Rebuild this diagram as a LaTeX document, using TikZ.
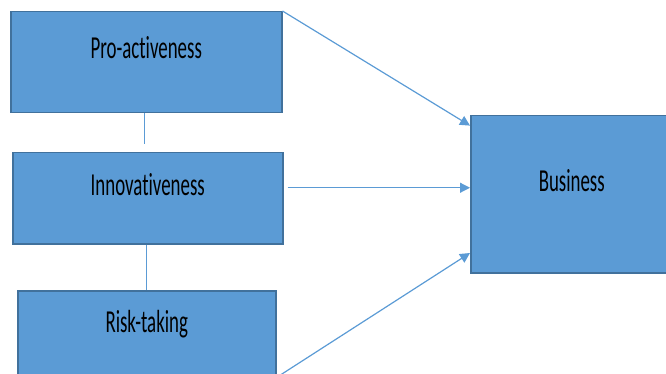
\documentclass[tikz,border=0pt]{standalone}
\usepackage{fontspec}
\setmainfont{Carlito}[FakeStretch=0.59, Ligatures=CommonOff]
\usetikzlibrary{arrows.meta, positioning}

\definecolor{boxfill}{HTML}{5B9BD5}
\definecolor{boxline}{HTML}{41719C}

\begin{document}
\begin{tikzpicture}[x=1pt, y=-1pt,
   factor/.style = {draw=boxline, fill=boxfill, line width=1.5pt, anchor=north west,
                    inner sep=0pt, font=\fontsize{32}{36}\selectfont},
   link/.style = {draw=boxfill, line width=1.2pt},
   -{Triangle[length=10pt, width=10pt]}]
   \useasboundingbox (0,0) rectangle (666,374);

   \node[factor, minimum width=271pt, text height=47pt, text depth=54pt] (pro)  at (10,11)   {Pro-activeness};
   \node[factor, minimum width=270pt, text height=43pt, text depth=48pt] (inn)  at (12,152)  {Innovativeness};
   \node[factor, minimum width=258pt, text height=42pt, text depth=46pt] (risk) at (17,290)  {Risk-taking};
   \node[factor, minimum width=202pt, text height=76pt, text depth=81pt] (bus)  at (470,115) {Business};

   \draw[link, -] ([xshift=-1.5pt]pro.south) -- ([xshift=-1.5pt, yshift=8pt]pro.south |- inn.north);
   \draw[link, -] ([xshift=-1pt]inn.south) -- ([xshift=-1pt]inn.south |- risk.north);

   \draw[link] (pro.north east) -- (bus.146);
   \draw[link] ([xshift=4pt, yshift=10.5pt]inn.east) -- ([yshift=10.5pt]inn.east -| bus.west);
   \draw[link] ([yshift=2pt]risk.south east) -- (bus.210);

\end{tikzpicture}
\end{document}
